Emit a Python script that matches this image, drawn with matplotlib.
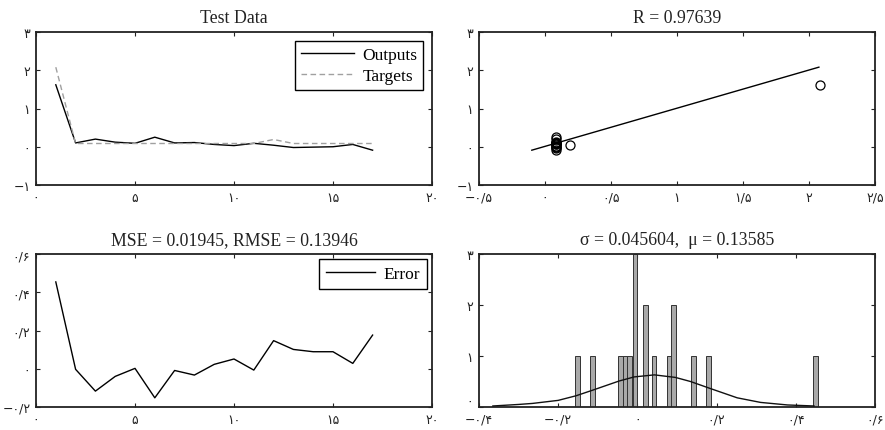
import matplotlib
matplotlib.use("Agg")
import matplotlib.pyplot as plt
import matplotlib.transforms as mtransforms
import numpy as np

# ---------------- data ----------------
sample_idx = list(range(1, 18))
outputs = [1.62, 0.10, 0.20, 0.12, 0.09, 0.25, 0.10, 0.11, 0.06, 0.03, 0.09, 0.04, -0.02, -0.01, 0.00, 0.06, -0.09]
targets = [2.08, 0.085, 0.085, 0.085, 0.085, 0.085, 0.085, 0.085, 0.085, 0.085, 0.085, 0.19, 0.085, 0.085, 0.085, 0.085, 0.085]
errors = [0.454, -0.003, -0.117, -0.040, 0.002, -0.152, -0.009, -0.033, 0.023, 0.051, -0.007, 0.147, 0.101, 0.089, 0.089, 0.028, 0.176]

fit_slope = 0.998
fit_intercept = 0.010
fit_range = [-0.10, 2.075]

hist_centers = [-0.152, -0.114, -0.042, -0.031, -0.019, -0.006, 0.020, 0.042, 0.081, 0.092, 0.142, 0.179, 0.449]
hist_counts = [1, 1, 1, 1, 1, 3, 2, 1, 1, 2, 1, 1, 1]
hist_bar_width = 0.0122

curve_x = [-0.365, -0.30, -0.265, -0.20, -0.155, -0.113, -0.046, -0.008, 0.043, 0.064, 0.096, 0.134, 0.185, 0.252, 0.311, 0.379, 0.446]
curve_y = [0.02, 0.05, 0.07, 0.13, 0.22, 0.33, 0.51, 0.59, 0.63, 0.61, 0.58, 0.50, 0.36, 0.18, 0.09, 0.04, 0.02]

title_test = "Test Data"
title_r = "R = 0.97639"
title_mse = "MSE = 0.01945, RMSE = 0.13946"
title_hist = "σ = 0.045604,  μ = 0.13585"

# tick values and their Persian labels
t1_xticks = [0, 5, 10, 15, 20]
t1_xlabels = ["۰", "۵", "۱۰", "۱۵", "۲۰"]
t1_yticks = [-1, 0, 1, 2, 3]
t1_ylabels = ["−۱", "۰", "۱", "۲", "۳"]

r_xticks = [-0.5, 0, 0.5, 1, 1.5, 2, 2.5]
r_xlabels = ["−۰/۵", "۰", "۰/۵", "۱", "۱/۵", "۲", "۲/۵"]

e_yticks = [-0.2, 0, 0.2, 0.4, 0.6]
e_ylabels = ["−۰/۲", "۰", "۰/۲", "۰/۴", "۰/۶"]

h_xticks = [-0.4, -0.2, 0, 0.2, 0.4, 0.6]
h_xlabels = ["−۰/۴", "−۰/۲", "۰", "۰/۲", "۰/۴", "۰/۶"]
h_yticks = [0, 1, 2, 3]
h_ylabels = ["۰", "۱", "۲", "۳"]

# ---------------- style ----------------
SERIF = ["Liberation Serif", "DejaVu Serif"]
TICKFONT = ["DejaVu Sans"]

fig = plt.figure(figsize=(8.85, 4.31), dpi=100)

def style(ax, xt, xl, yt, yl, xlim, ylim, title):
    ax.set_xlim(*xlim)
    ax.set_ylim(*ylim)
    ax.set_xticks(xt)
    ax.set_xticklabels(xl, family=TICKFONT, fontsize=9, color="#222222")
    ax.set_yticks(yt)
    ax.set_yticklabels(yl, family=TICKFONT, fontsize=9, color="#222222")
    ax.tick_params(direction="in", length=3, width=0.8, top=True, right=True,
                   pad=4, colors="#222222")
    for s in ax.spines.values():
        s.set_linewidth(1.3)
        s.set_color("#222222")
    ax.set_title(title, family=SERIF, fontsize=12.8, pad=7, color="#222222")

L = 36 / 885
W = 396 / 885
R = 479 / 885
TOP_B = (431 - 186) / 431
BOT_B = (431 - 408) / 431
H = 153 / 431

ax1 = fig.add_axes([L, TOP_B, W, H])
ax2 = fig.add_axes([R, TOP_B, W, H])
ax3 = fig.add_axes([L, BOT_B, W, H])
ax4 = fig.add_axes([R, BOT_B, W, H])

# Panel 1: outputs vs targets
ax1.plot(sample_idx, outputs, color="black", lw=1.0, label="Outputs")
ax1.plot(sample_idx, targets, color="#a0a0a0", lw=1.0, ls=(0, (4, 2.5)), label="Targets")
style(ax1, t1_xticks, t1_xlabels, t1_yticks, t1_ylabels, (0, 20), (-1, 3), title_test)
leg = ax1.legend(loc="upper right", prop={"family": SERIF, "size": 12.5}, fancybox=False,
                 edgecolor="black", framealpha=1, handlelength=3.0, borderaxespad=0.5,
                 borderpad=0.35, labelspacing=0.3, handletextpad=0.5)
leg.get_frame().set_linewidth(1.0)

# Panel 2: regression
fx = np.array(fit_range)
ax2.plot(fx, fit_slope * fx + fit_intercept, color="black", lw=1.0)
ax2.plot(targets, outputs, ls="none", marker="o", markersize=6.5, markerfacecolor="none",
         markeredgecolor="black", markeredgewidth=0.9)
style(ax2, r_xticks, r_xlabels, t1_yticks, t1_ylabels, (-0.5, 2.5), (-1, 3), title_r)

# Panel 3: error
ax3.plot(sample_idx, errors, color="black", lw=1.0, label="Error")
style(ax3, t1_xticks, t1_xlabels, e_yticks, e_ylabels, (0, 20), (-0.2, 0.6), title_mse)
leg3 = ax3.legend(loc="upper right", prop={"family": SERIF, "size": 12.5}, fancybox=False,
                  edgecolor="black", framealpha=1, handlelength=2.8, borderaxespad=0.3,
                  borderpad=0.4, handletextpad=0.5)
leg3.get_frame().set_linewidth(1.0)

# Panel 4: histogram
ax4.bar(hist_centers, hist_counts, width=hist_bar_width, color="#a9a9a9",
        edgecolor="#333333", linewidth=0.7, zorder=2)
ax4.plot(curve_x, curve_y, color="#111111", lw=1.0, zorder=3)
style(ax4, h_xticks, h_xlabels, h_yticks, h_ylabels, (-0.4, 0.6), (0, 3), title_hist)

# nudge the lowest y label of the histogram up so it clears the x labels
lbl = ax4.get_yticklabels()[0]
lbl.set_transform(lbl.get_transform() + mtransforms.ScaledTranslation(0, 5 / 72, fig.dpi_scale_trans))

fig.savefig("out.png", dpi=100)
